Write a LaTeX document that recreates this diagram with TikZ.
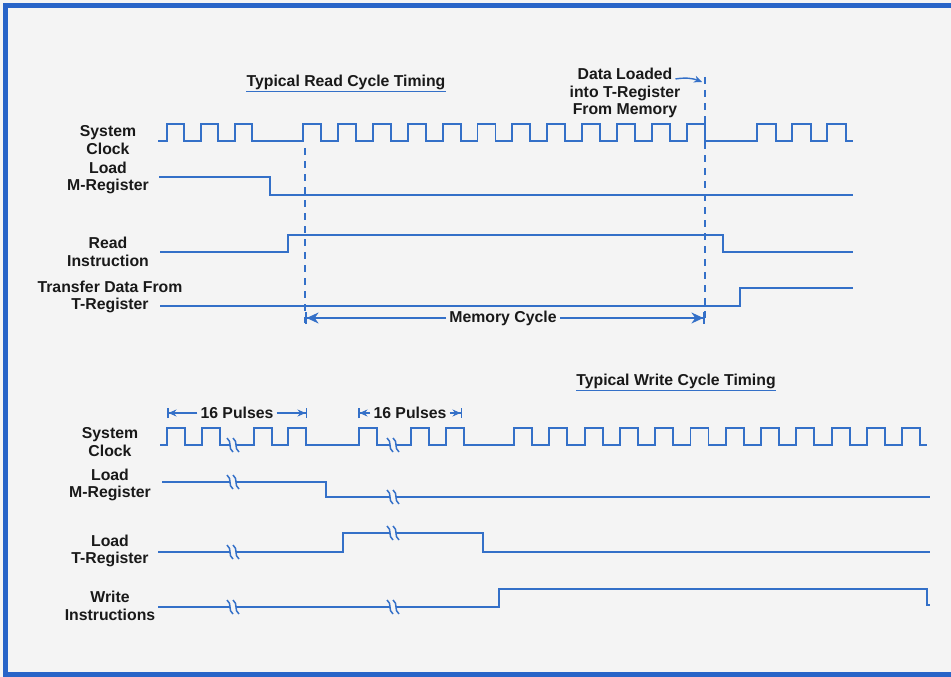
\documentclass[tikz,border=0pt]{standalone}
\usepackage{fontspec}
\setsansfont{Liberation Sans}
\usepackage{tikz}
\usetikzlibrary{arrows.meta, positioning}
\definecolor{SigBlue}{RGB}{52,112,200}
\definecolor{FrameBlue}{RGB}{40,100,200}
\definecolor{PaperGray}{RGB}{244,244,244}
\tikzstyle{lbl} = [align=center, inner sep=0pt, text=black!90, font=\sffamily\bfseries\fontsize{15.8}{17.5}\selectfont]
\tikzstyle{sig} = [SigBlue, line width=1.9pt, line join=miter]
\tikzstyle{guide} = [SigBlue, line width=1.6pt, dash pattern=on 7pt off 6pt]
\tikzstyle{dimarrow} = [SigBlue, line width=1.6pt, -{Stealth[length=12pt,width=11pt]Bar[width=12pt,line width=1.6pt]}]
\tikzstyle{dimsmall} = [SigBlue, line width=1.5pt, -{Stealth[length=8pt,width=7pt]Bar[width=10pt,line width=1.5pt]}]
\newcommand{\brk}[2]{%
  \fill[PaperGray] (#1-3,#2-4) rectangle (#1+3,#2+4);
  \draw[sig, line width=1.5pt] (#1-6,#2-7) .. controls (#1-0.5,#2-3) and (#1-5.5,#2+3) .. (#1,#2+7);
  \draw[sig, line width=1.5pt] (#1,#2-7) .. controls (#1+5.5,#2-3) and (#1+0.5,#2+3) .. (#1+6,#2+7);}

\begin{document}
\begin{tikzpicture}[x=1pt, y=-1pt]
  \useasboundingbox (0,0) rectangle (951,677);
  \fill[PaperGray] (0,0) rectangle (951,677);
  \draw[FrameBlue, line width=5pt] (951,5.5) -- (5,5.5) -- (5,674.5) -- (951,674.5);

  % read cycle
  \node (readtitle) [lbl] at (346,82) {Typical Read Cycle Timing};
  \draw[SigBlue, line width=1.8pt] ([yshift=-5.5pt]readtitle.base west) -- ([yshift=-5.5pt]readtitle.base east);
  \node (rclock) [lbl] at (108,140) {System\\Clock};
  \node (rloadm) [lbl] at (108,178) {Load\\M-Register};
  \node (rread) [lbl] at (108,252) {Read\\Instruction};
  \node (rtrans) [lbl] at (110,297) {Transfer Data From\\T-Register};
  \node (dataload) [lbl] at (625,93) {Data Loaded\\into T-Register\\From Memory};

  \draw[guide] (305,148) -- (305,323);
  \draw[guide] (705,77) -- (705,323);

  \draw[sig] (158,141)
    foreach \i in {0,1,2} { -- ({167+34.2*\i},141) -- ({167+34.2*\i},124) -- ({184+34.2*\i},124) -- ({184+34.2*\i},141) }
    foreach \i in {0,...,11} { -- ({303+34.9*\i},141) -- ({303+34.9*\i},124) -- ({321+34.9*\i},124) -- ({321+34.9*\i},141) }
    foreach \i in {0,1,2} { -- ({757+35*\i},141) -- ({757+35*\i},124) -- ({776+35*\i},124) -- ({776+35*\i},141) }
    -- (853,141);
  \draw[sig] (159,177) -- (270,177) -- (270,195) -- (853,195);
  \draw[sig] (160,252) -- (288,252) -- (288,235) -- (723,235) -- (723,252) -- (853,252);
  \draw[sig] (160,306) -- (740,306) -- (740,288) -- (853,288);

  \coordinate (dltip) at (702,82);
  \draw[SigBlue, line width=1.4pt, -{Stealth[length=8pt,width=7pt]}] ([xshift=-5pt,yshift=-11pt]dataload.north east) to[bend left=15] (dltip);

  \node (memcycle) [lbl, fill=PaperGray, inner xsep=3pt] at (503,318) {Memory Cycle};
  \coordinate (memleft) at (305,318);
  \coordinate (memright) at (705,318);
  \draw[dimarrow] (memcycle) -- (memleft);
  \draw[dimarrow] (memcycle) -- (memright);

  % write cycle
  \node (writetitle) [lbl] at (676,381) {Typical Write Cycle Timing};
  \draw[SigBlue, line width=1.8pt] ([yshift=-5.5pt]writetitle.base west) -- ([yshift=-5.5pt]writetitle.base east);
  \node (wclock) [lbl] at (110,442) {System\\Clock};
  \node (wloadm) [lbl] at (110,485) {Load\\M-Register};
  \node (wloadt) [lbl] at (110,551) {Load\\T-Register};
  \node (wwrite) [lbl] at (110,606) {Write\\Instructions};

  \node (pulsesA) [lbl, inner xsep=3pt] at (237,413) {16 Pulses};
  \coordinate (pulsesAl) at (167,413);
  \coordinate (pulsesAr) at (307,413);
  \draw[dimsmall] (pulsesA) -- (pulsesAl);
  \draw[dimsmall] (pulsesA) -- (pulsesAr);
  \node (pulsesB) [lbl, inner xsep=3pt] at (410,413) {16 Pulses};
  \coordinate (pulsesBl) at (358,413);
  \coordinate (pulsesBr) at (462,413);
  \draw[dimsmall] (pulsesB) -- (pulsesBl);
  \draw[dimsmall] (pulsesB) -- (pulsesBr);

  \draw[sig] (160,445)
    foreach \x in {167,202,254,288,359,411,446} { -- (\x,445) -- (\x,428) -- ({\x+18},428) -- ({\x+18},445) }
    foreach \i in {0,...,11} { -- ({514+35.3*\i},445) -- ({514+35.3*\i},428) -- ({532+35.3*\i},428) -- ({532+35.3*\i},445) }
    -- (927,445);
  \draw[sig] (162,482) -- (326,482) -- (326,497) -- (930,497);
  \draw[sig] (158,552) -- (343,552) -- (343,533) -- (483,533) -- (483,552) -- (930,552);
  \draw[sig] (158,607) -- (499,607) -- (499,589) -- (927,589) -- (927,605) -- (930,605);
  \brk{233}{445} \brk{393}{445}
  \brk{233}{482} \brk{393}{497}
  \brk{233}{552} \brk{393}{533}
  \brk{233}{607} \brk{393}{607}

\end{tikzpicture}
\end{document}
